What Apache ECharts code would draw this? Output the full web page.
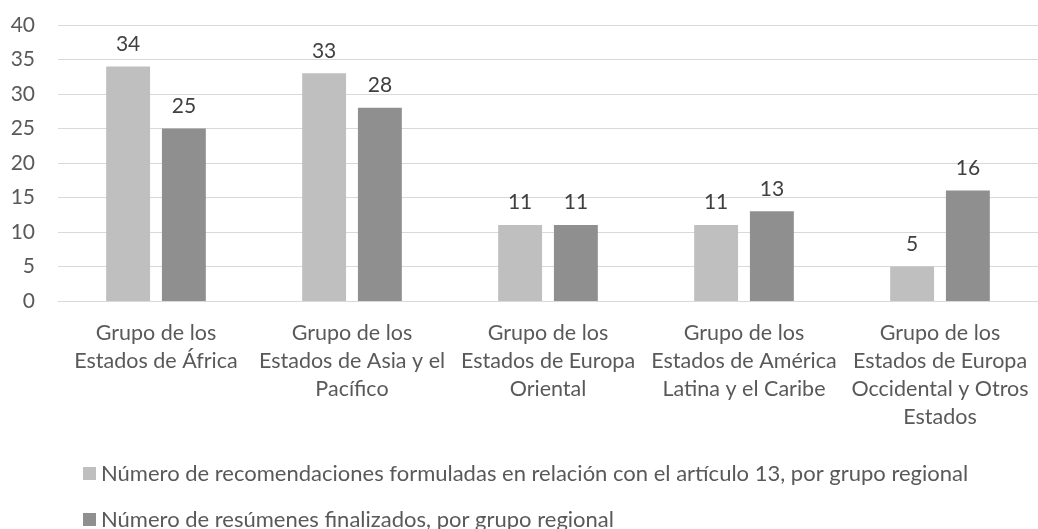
<!DOCTYPE html>
<html><head><meta charset="utf-8">
<script src="https://cdn.jsdelivr.net/npm/echarts@6/dist/echarts.min.js"></script>
<style>html,body{margin:0;padding:0;background:#fff}#c{width:1038px;height:529px}</style>
</head><body><div id="c"></div>
<script>
const categories = [
  "Grupo de los\nEstados de África",
  "Grupo de los\nEstados de Asia y el\nPacífico",
  "Grupo de los\nEstados de Europa\nOriental",
  "Grupo de los\nEstados de América\nLatina y el Caribe",
  "Grupo de los\nEstados de Europa\nOccidental y Otros\nEstados"
];
const seriesNames = [
  "Número de recomendaciones formuladas en relación con el artículo 13, por grupo regional",
  "Número de resúmenes finalizados, por grupo regional"
];
const recomendaciones = [34, 33, 11, 11, 5];
const resumenes = [25, 28, 11, 13, 16];
const yTicks = [0, 5, 10, 15, 20, 25, 30, 35, 40];

const font = "Lato, 'Open Sans', sans-serif";
const chart = echarts.init(document.getElementById('c'), null, {renderer: 'canvas'});
const labelStyle = {show: true, position: 'top', distance: 12, color: '#404040', fontSize: 21, fontFamily: font};
const legendBase = {
  orient: 'horizontal', left: 83, padding: 0,
  itemWidth: 13, itemHeight: 13, icon: 'rect',
  textStyle: {color: '#595959', fontSize: 22, lineHeight: 25, fontFamily: font}
};
chart.setOption({
  animation: false,
  textStyle: {fontFamily: font},
  grid: {left: 58, right: 0, top: 25, bottom: 228, containLabel: false},
  legend: [
    Object.assign({}, legendBase, {top: 461, data: [seriesNames[0]]}),
    Object.assign({}, legendBase, {top: 507, data: [seriesNames[1]]})
  ],
  xAxis: {
    type: 'category', data: categories,
    axisLine: {show: true, lineStyle: {color: '#D9D9D9', width: 1}},
    axisTick: {show: false},
    axisLabel: {color: '#595959', fontSize: 21.5, fontFamily: font, lineHeight: 28, margin: 18, interval: 0}
  },
  yAxis: {
    type: 'value', min: yTicks[0], max: yTicks[yTicks.length - 1], interval: 5,
    axisLine: {show: false}, axisTick: {show: false},
    axisLabel: {color: '#595959', fontSize: 21, fontFamily: font, margin: 23},
    splitLine: {lineStyle: {color: '#D9D9D9', width: 1}}
  },
  series: [
    {name: seriesNames[0], type: 'bar', data: recomendaciones, barWidth: '22.4%', barGap: '27%',
     itemStyle: {color: '#BFBFBF'}, label: labelStyle},
    {name: seriesNames[1], type: 'bar', data: resumenes, barWidth: '22.4%',
     itemStyle: {color: '#8F8F8F'}, label: labelStyle}
  ]
});
</script></body></html>
